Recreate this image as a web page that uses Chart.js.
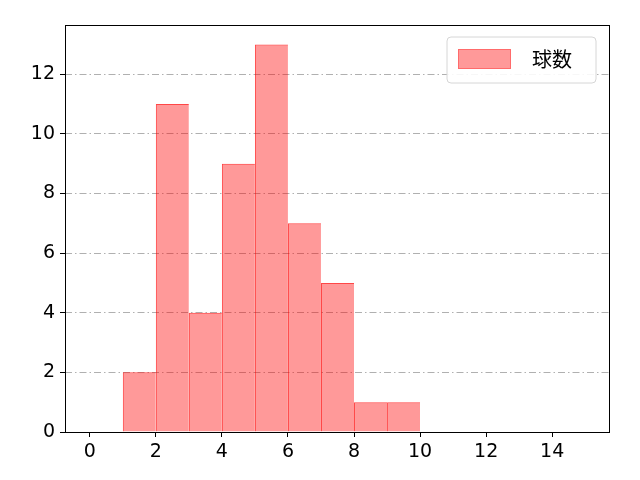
<!DOCTYPE html>
<html>
<head>
<meta charset="utf-8">
<script src="https://cdn.jsdelivr.net/npm/chart.js@4.4.0/dist/chart.umd.min.js"></script>
<style>
  html, body { margin: 0; padding: 0; background: #fff; }
  #wrap { width: 640px; height: 480px; }
</style>
</head>
<body>
<div id="wrap"><canvas id="histChart" width="640" height="480"></canvas></div>
<script>
// 球数のヒストグラム (ビン幅 1)
const binCenters = [1.5, 2.5, 3.5, 4.5, 5.5, 6.5, 7.5, 8.5, 9.5];
const counts = [2, 11, 4, 9, 13, 7, 5, 1, 1];
const xTicks = [0, 2, 4, 6, 8, 10, 12, 14];
const yTicks = [0, 2, 4, 6, 8, 10, 12];
const seriesLabel = '球数';

const TICK_FONT = "'DejaVu Sans', sans-serif";
const LEGEND_FONT = "'Noto Sans CJK JP', sans-serif";

// 枠線と凡例 (matplotlib 風)
const framePlugin = {
    id: 'frame',
    afterDraw(chart) {
        const { ctx, chartArea: a } = chart;
        ctx.save();
        ctx.strokeStyle = '#000';
        ctx.lineWidth = 1;
        ctx.setLineDash([]);
        ctx.strokeRect(Math.round(a.left) + 0.5, Math.round(a.top) + 0.5,
            Math.round(a.right - a.left) - 1, Math.round(a.bottom - a.top));

        // 凡例
        const bx = 447, by = 37, bw = 149, bh = 46, r = 4;
        ctx.beginPath();
        ctx.moveTo(bx + r, by);
        ctx.arcTo(bx + bw, by, bx + bw, by + bh, r);
        ctx.arcTo(bx + bw, by + bh, bx, by + bh, r);
        ctx.arcTo(bx, by + bh, bx, by, r);
        ctx.arcTo(bx, by, bx + bw, by, r);
        ctx.closePath();
        ctx.fillStyle = 'rgba(255,255,255,0.9)';
        ctx.fill();
        ctx.strokeStyle = '#d6d6d6';
        ctx.stroke();

        const ds = chart.data.datasets[0];
        ctx.fillStyle = ds.backgroundColor;
        ctx.fillRect(458, 49, 53, 20);
        ctx.strokeStyle = 'rgba(255, 0, 0, 0.3)';
        ctx.strokeRect(458.5, 49.5, 52, 19);

        ctx.fillStyle = '#000';
        ctx.font = '20px ' + LEGEND_FONT;
        ctx.textBaseline = 'middle';
        ctx.textAlign = 'left';
        ctx.fillText(ds.label, 532, 59);
        ctx.restore();
    }
};

const ctx = document.getElementById('histChart').getContext('2d');
new Chart(ctx, {
    type: 'bar',
    data: {
        labels: binCenters,
        datasets: [{
            label: seriesLabel,
            data: binCenters.map((x, i) => ({ x: x, y: counts[i] })),
            backgroundColor: 'rgba(255, 0, 0, 0.4)',
            borderColor: 'rgba(255, 0, 0, 0.72)',
            borderWidth: { left: 1, top: 1, right: 0, bottom: 0 },
            borderSkipped: false,
            inflateAmount: 0,
            barPercentage: 1,
            categoryPercentage: 1
        }]
    },
    options: {
        responsive: false,
        animation: false,
        devicePixelRatio: 1,
        layout: { padding: { left: 0, right: 30, top: 25, bottom: 0 } },
        plugins: {
            legend: { display: false },
            tooltip: { enabled: false }
        },
        scales: {
            x: {
                type: 'linear',
                offset: false,
                min: -0.75,
                max: 15.75,
                afterBuildTicks: (scale) => { scale.ticks = xTicks.map(v => ({ value: v })); },
                afterFit: (scale) => { scale.height = 48; },
                ticks: {
                    color: '#000',
                    font: { family: TICK_FONT, size: 19 },
                    padding: 4,
                    maxRotation: 0,
                    autoSkip: false
                },
                grid: {
                    offset: false,
                    drawOnChartArea: false,
                    drawTicks: true,
                    tickLength: 5,
                    tickColor: '#000'
                },
                border: { display: false }
            },
            y: {
                min: 0,
                max: 13.65,
                z: 1,
                afterBuildTicks: (scale) => { scale.ticks = yTicks.map(v => ({ value: v })); },
                afterFit: (scale) => { scale.width = 65; },
                ticks: {
                    color: '#000',
                    font: { family: TICK_FONT, size: 19 },
                    padding: 5,
                    autoSkip: false
                },
                grid: {
                    color: '#b0b0b0',
                    lineWidth: 1,
                    borderDash: [7, 3, 1.5, 3],
                    tickLength: 5,
                    tickColor: '#000',
                    tickBorderDash: []
                },
                border: { display: false, dash: [7, 3, 1.5, 3] }
            }
        }
    },
    plugins: [framePlugin]
});
</script>
</body>
</html>
